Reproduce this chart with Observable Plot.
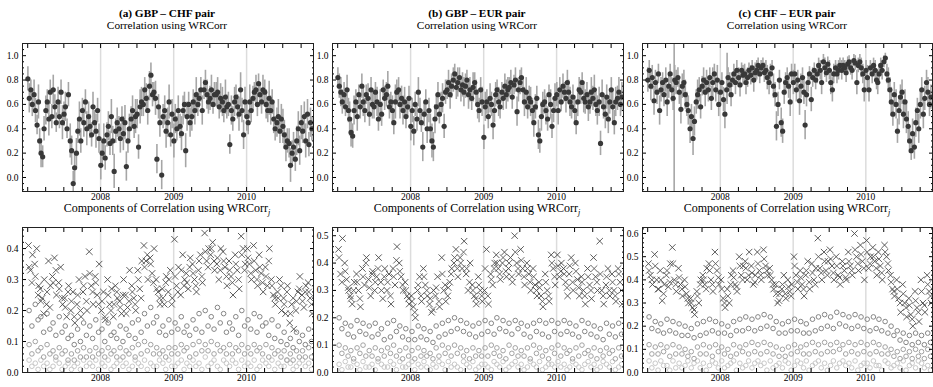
<!DOCTYPE html>
<html><head><meta charset="utf-8">
<script src="https://cdn.jsdelivr.net/npm/d3@7"></script>
<script src="https://cdn.jsdelivr.net/npm/@observablehq/plot@0.6"></script>
<style>
body{margin:0;background:#fff}
#c{position:relative;width:933px;height:387px;overflow:hidden;font-family:"Liberation Serif",serif;color:#000}
.p{position:absolute}
.t{position:absolute;width:300px;text-align:center;font-size:11.3px;line-height:12px;white-space:nowrap}
.b{font-weight:bold}
.m{font-size:12px;line-height:11px}
</style></head><body><div id="c"></div>
<script>
// ---- titles ----
const panelTitles = ["(a) GBP \u2013 CHF pair", "(b) GBP \u2013 EUR pair", "(c) CHF \u2013 EUR pair"];
const subTitle = "Correlation using WRCorr";
const lowerTitle = "Components of Correlation using WRCorr";
const yearLabels = [2008, 2009, 2010];

// ---- top row: correlation estimates (4 per month, Jan 2007 .. Nov 2010) ----
const corrA = [
 .81,.65,.72,.60, .68,.55,.43,.62, .30,.20,.17,.40, .55,.62,.48,.70, .50,.72,.58,.45, .62,.50,.70,.45, .52,.58,.40,.68, .30,.22,-.05,.08, .20,.38,.48,.30, .55,.45,.62,.40, .50,.42,.35,.58, .45,.38,.55,.32,
 .10,.20,.30,.16, .35,.42,.28,.50, .30,.05,.38,.45, .40,.32,.48,.36, .45,.09,.30,.40, .48,.55,.42,.50, .52,.25,.58,.62, .60,.72,.65,.55, .75,.84,.68,.70, .65,.15,.58,.45, .02,.50,.55,.38, .45,.62,.35,.52,
 .30,.48,.40,.55, .42,.36,.55,.60, .22,.50,.60,.45, .50,.62,.55,.68, .60,.65,.72,.55, .72,.78,.68,.62, .65,.72,.60,.68, .68,.70,.58,.65, .62,.55,.66,.58, .60,.27,.55,.48, .62,.66,.58,.52, .72,.55,.35,.62,
 .50,.45,.62,.55, .65,.70,.72,.60, .77,.68,.62,.72, .70,.60,.55,.65, .55,.62,.48,.40, .45,.50,.38,.48, .42,.35,.25,.30, .28,.10,.20,.25, .15,.30,.40,.22, .45,.38,.50,.30, .52,.27,.45,.40];
const errA = [
 .10,.12,.08,.10, .12,.10,.08,.14, .10,.12,.09,.10, .12,.10,.14,.10, .10,.12,.10,.08, .12,.10,.10,.14, .10,.12,.08,.10, .14,.12,.10,.12, .12,.10,.14,.10, .10,.12,.10,.14, .12,.10,.10,.12, .10,.14,.10,.12,
 .12,.10,.14,.10, .10,.12,.10,.14, .12,.14,.10,.12, .10,.12,.10,.14, .14,.12,.10,.12, .10,.12,.10,.14, .12,.10,.14,.12, .10,.10,.12,.12, .12,.10,.10,.08, .14,.12,.10,.12, .12,.10,.12,.14, .12,.14,.10,.12,
 .14,.12,.10,.12, .10,.14,.12,.10, .14,.12,.10,.12, .12,.10,.12,.14, .10,.08,.10,.12, .08,.10,.12,.10, .10,.12,.08,.10, .10,.12,.10,.12, .12,.10,.14,.10, .10,.08,.12,.10, .12,.10,.10,.14, .14,.10,.12,.12,
 .12,.10,.14,.10, .10,.08,.12,.10, .08,.10,.10,.12, .10,.12,.10,.14, .12,.10,.12,.10, .12,.14,.10,.12, .14,.12,.12,.10, .12,.14,.10,.12, .10,.12,.14,.12, .14,.10,.12,.14, .12,.10,.12,.10];
const corrB = [
 .82,.75,.70,.62, .68,.58,.72,.55, .48,.37,.34,.55, .62,.50,.68,.58, .75,.62,.55,.68, .65,.52,.72,.60, .58,.70,.62,.48, .60,.52,.72,.65, .68,.75,.58,.62, .55,.45,.62,.70, .72,.60,.65,.55, .62,.50,.58,.65,
 .42,.55,.38,.60, .48,.70,.55,.45, .25,.52,.62,.40, .55,.40,.30,.25, .48,.58,.68,.52, .60,.65,.42,.70, .72,.78,.68,.75, .80,.85,.74,.78, .82,.72,.76,.70, .75,.80,.68,.72, .65,.74,.78,.70, .60,.55,.72,.62,
 .33,.58,.62,.50, .65,.60,.43,.55, .68,.72,.62,.58, .70,.65,.75,.68, .72,.74,.78,.66, .76,.80,.54,.72, .78,.82,.72,.62, .70,.58,.65,.62, .55,.45,.58,.65, .35,.30,.50,.60, .62,.55,.48,.68, .60,.42,.55,.65,
 .68,.55,.72,.62, .75,.70,.65,.78, .70,.62,.58,.66, .55,.45,.62,.72, .70,.78,.65,.62, .68,.58,.62,.70, .65,.72,.60,.55, .62,.28,.68,.58, .52,.66,.48,.62, .72,.58,.45,.62, .65,.70,.60,.66];
const errB = [
 .08,.10,.12,.10, .10,.08,.12,.10, .14,.12,.10,.12, .10,.12,.08,.10, .10,.12,.10,.08, .12,.10,.10,.12, .10,.08,.12,.10, .12,.10,.08,.10, .10,.12,.10,.08, .12,.10,.14,.10, .10,.12,.10,.12, .12,.10,.08,.10,
 .12,.10,.12,.10, .10,.12,.10,.08, .12,.10,.10,.12, .10,.12,.14,.12, .12,.10,.10,.08, .10,.12,.10,.10, .08,.10,.12,.10, .10,.08,.10,.12, .08,.10,.10,.12, .10,.08,.12,.10, .10,.12,.08,.10, .12,.10,.10,.12,
 .10,.12,.10,.10, .12,.10,.12,.10, .10,.08,.12,.10, .08,.10,.10,.12, .10,.08,.10,.10, .08,.10,.12,.10, .10,.08,.10,.12, .12,.10,.10,.12, .10,.12,.10,.10, .12,.10,.12,.10, .10,.12,.10,.08, .12,.10,.10,.12,
 .10,.12,.10,.08, .10,.08,.12,.10, .10,.12,.10,.10, .12,.10,.12,.10, .10,.08,.12,.10, .10,.12,.10,.12, .10,.12,.10,.12, .12,.10,.12,.10, .12,.10,.12,.10, .10,.12,.10,.12, .10,.12,.10,.12];
const corrC = [
 .80,.88,.75,.82, .63,.78,.70,.85, .55,.72,.78,.68, .80,.62,.75,.85, .72,.65,.80,.78, .82,.70,.56,.75, .78,.68,.60,.55, .40,.50,.32,.46, .62,.68,.72,.58, .75,.80,.70,.78, .72,.82,.65,.78, .85,.72,.80,.60,
 .70,.78,.64,.52, .72,.82,.76,.68, .80,.85,.78,.88, .82,.76,.88,.84, .85,.78,.82,.88, .84,.90,.80,.86, .88,.92,.85,.90, .92,.86,.88,.82, .78,.85,.90,.75, .68,.42,.60,.80, .45,.38,.70,.78, .82,.75,.62,.85,
 .78,.85,.72,.80, .63,.75,.82,.70, .43,.68,.78,.85, .64,.82,.88,.80, .85,.92,.88,.78, .95,.90,.86,.93, .88,.78,.72,.85, .90,.85,.88,.92, .88,.92,.90,.86, .93,.95,.90,.88, .96,.94,.78,.92, .95,.90,.85,.72,
 .88,.82,.72,.90, .85,.92,.88,.80, .78,.85,.92,.88, .95,.98,.85,.80, .72,.62,.52,.68, .60,.38,.55,.66, .70,.52,.62,.48, .42,.30,.22,.36, .25,.45,.55,.40, .60,.72,.52,.65, .78,.70,.60,.66];
const errC = [
 .10,.08,.12,.10, .12,.10,.10,.08, .12,.10,.08,.10, .10,.12,.10,.08, .10,.10,.12,.10, .08,.10,.12,.10, .10,.12,.10,.12, .12,.10,.14,.12, .10,.12,.10,.10, .08,.10,.12,.10, .10,.08,.10,.12, .08,.10,.12,.10,
 .10,.08,.10,.12, .10,.08,.10,.10, .06,.08,.10,.08, .08,.10,.06,.08, .08,.10,.08,.06, .08,.06,.10,.08, .08,.06,.08,.06, .06,.08,.08,.10, .10,.08,.06,.10, .10,.12,.10,.08, .12,.10,.10,.08, .08,.10,.12,.08,
 .10,.08,.10,.08, .12,.10,.08,.10, .12,.10,.08,.06, .10,.08,.06,.08, .08,.06,.08,.10, .06,.08,.08,.06, .08,.10,.10,.08, .06,.08,.08,.06, .08,.06,.06,.08, .06,.05,.06,.08, .05,.06,.10,.06, .06,.08,.08,.10,
 .08,.10,.10,.06, .08,.06,.08,.08, .10,.08,.06,.08, .05,.04,.08,.10, .10,.12,.10,.10, .12,.10,.12,.10, .10,.12,.10,.12, .12,.10,.08,.12, .10,.12,.10,.12, .12,.10,.12,.10, .10,.12,.10,.10];
// isolated long error bars in panel (c)
const spikeDatesC = ["2007-05-14", "2008-02-04"];
const spikeLoC = [-0.3, 0.60];
const spikeHiC = [1.3, 1.02];

// ---- bottom row: components (x markers 3/month, others 2/month) ----
const xsA = [
 .41,.33,.38, .35,.40,.28, .27,.24,.30, .22,.36,.28, .31,.37,.25, .29,.34,.22, .24,.18,.28, .20,.26,.16, .22,.30,.18, .26,.31,.20, .39,.28,.22, .31,.25,.35,
 .20,.26,.17, .30,.22,.27, .18,.28,.24, .23,.19,.30, .25,.21,.33, .28,.24,.20, .33,.27,.36, .41,.36,.30, .37,.32,.40, .30,.26,.22, .27,.22,.31, .26,.33,.24,
 .43,.28,.34, .25,.38,.30, .32,.27,.37, .35,.30,.26, .33,.38,.29, .45,.36,.40, .38,.42,.33, .35,.30,.40, .39,.34,.28, .36,.31,.25, .38,.33,.27, .44,.40,.35,
 .40,.35,.30, .41,.33,.28, .38,.32,.26, .34,.28,.40, .30,.25,.22, .26,.30,.20, .24,.19,.28, .16,.22,.14, .20,.26,.31, .25,.21,.28, .29,.24,.19];
const xs2A = [
 .34,.29, .31,.25, .23,.19, .26,.21, .29,.33, .27,.24, .21,.26, .23,.18, .25,.20, .28,.23, .32,.26, .29,.22,
 .23,.18, .25,.20, .22,.26, .21,.25, .19,.23, .26,.22, .30,.24, .34,.38, .35,.29, .27,.24, .24,.29, .30,.22,
 .31,.26, .33,.28, .29,.34, .32,.28, .36,.31, .39,.34, .40,.36, .37,.33, .36,.31, .33,.29, .35,.30, .38,.33,
 .37,.32, .36,.30, .34,.29, .31,.36, .28,.24, .24,.28, .22,.26, .19,.24, .23,.27, .23,.26, .26,.22];
const c1A = [
 .20,.15, .22,.17, .18,.13, .19,.14, .16,.12, .18,.13, .15,.11, .12,.09, .14,.10, .16,.12, .15,.11, .17,.13,
 .14,.10, .16,.12, .13,.11, .15,.10, .14,.12, .16,.11, .17,.13, .19,.15, .21,.16, .18,.13, .15,.12, .17,.13,
 .16,.14, .18,.13, .15,.12, .17,.14, .19,.13, .20,.15, .18,.14, .21,.16, .19,.13, .16,.14, .18,.12, .20,.15,
 .17,.14, .19,.13, .18,.15, .16,.12, .17,.11, .15,.10, .13,.09, .11,.08, .13,.10, .12,.09, .14,.10];
const c2A = [
 .09,.06, .10,.07, .08,.05, .09,.06, .07,.05, .08,.06, .07,.04, .06,.04, .07,.05, .08,.05, .07,.05, .08,.06,
 .07,.05, .08,.06, .07,.05, .08,.05, .07,.06, .08,.05, .09,.06, .10,.07, .09,.06, .08,.06, .07,.05, .08,.06,
 .08,.06, .09,.07, .08,.05, .09,.06, .10,.07, .09,.07, .10,.06, .09,.07, .08,.06, .09,.06, .08,.07, .09,.06,
 .08,.06, .09,.07, .08,.06, .09,.05, .08,.06, .07,.05, .07,.04, .06,.04, .07,.05, .07,.05, .08,.05];
const c3A = [
 .04,.02, .03,.01, .04,.02, .03,.01, .02,.04, .03,.01, .02,.03, .01,.02, .03,.01, .04,.02, .03,.02, .04,.01,
 .03,.02, .04,.01, .02,.03, .04,.02, .03,.01, .02,.04, .03,.02, .04,.01, .03,.02, .02,.04, .03,.01, .04,.02,
 .02,.03, .04,.01, .03,.02, .04,.02, .03,.01, .05,.02, .03,.04, .02,.01, .04,.03, .02,.04, .03,.01, .04,.02,
 .03,.02, .04,.01, .02,.04, .03,.02, .04,.01, .03,.02, .02,.04, .03,.01, .02,.03, .04,.02, .03,.01];

const xsB = [
 .45,.36,.49, .40,.34,.30, .28,.25,.33, .36,.30,.24, .38,.32,.42, .34,.28,.37, .30,.35,.42, .33,.27,.38, .30,.36,.25, .38,.32,.46, .40,.35,.30, .33,.28,.25,
 .28,.24,.20, .30,.35,.26, .38,.32,.28, .25,.22,.30, .28,.35,.24, .42,.30,.26, .28,.33,.38, .40,.45,.35, .42,.38,.48, .36,.30,.40, .32,.28,.25, .35,.30,.26,
 .30,.45,.25, .36,.32,.40, .43,.38,.34, .40,.44,.35, .38,.42,.33, .50,.40,.36, .45,.38,.32, .40,.36,.30, .38,.32,.28, .33,.28,.24, .36,.30,.26, .43,.38,.32,
 .43,.35,.40, .38,.33,.28, .36,.42,.30, .40,.34,.28, .35,.30,.25, .38,.32,.27, .42,.35,.30, .48,.30,.25, .32,.38,.28, .36,.30,.26, .38,.33,.25];
const xs2B = [
 .42,.33, .37,.31, .27,.30, .33,.27, .35,.40, .31,.36, .33,.38, .30,.35, .33,.28, .35,.41, .37,.32, .30,.27,
 .26,.22, .32,.28, .35,.30, .27,.23, .31,.26, .36,.32, .31,.36, .42,.38, .40,.44, .38,.33, .30,.27, .32,.28,
 .38,.28, .34,.38, .40,.36, .42,.37, .40,.35, .44,.38, .41,.35, .38,.33, .35,.30, .31,.26, .33,.28, .40,.35,
 .39,.37, .36,.31, .39,.33, .37,.31, .33,.28, .35,.30, .38,.33, .36,.28, .35,.30, .33,.28, .36,.30];
const c1B = [
 .20,.16, .18,.14, .17,.13, .19,.15, .18,.14, .17,.13, .18,.14, .16,.12, .18,.13, .19,.15, .17,.13, .16,.12,
 .15,.12, .17,.13, .16,.12, .15,.11, .17,.13, .18,.14, .19,.15, .20,.16, .19,.15, .18,.14, .17,.13, .18,.14,
 .19,.15, .18,.14, .20,.16, .19,.15, .18,.14, .19,.16, .18,.14, .17,.13, .18,.15, .19,.14, .18,.13, .19,.15,
 .18,.14, .19,.15, .18,.14, .17,.13, .19,.15, .18,.14, .17,.13, .16,.12, .18,.14, .17,.13, .18,.14];
const c2B = [
 .10,.07, .09,.06, .08,.05, .09,.07, .10,.06, .08,.06, .09,.05, .08,.06, .09,.07, .10,.06, .08,.05, .09,.06,
 .08,.05, .09,.06, .08,.06, .07,.05, .09,.06, .10,.07, .09,.06, .10,.07, .09,.06, .08,.05, .09,.06, .08,.06,
 .09,.06, .10,.07, .09,.06, .08,.05, .10,.07, .09,.06, .08,.06, .09,.05, .10,.07, .09,.06, .08,.05, .09,.07,
 .10,.06, .09,.07, .08,.05, .09,.06, .10,.07, .08,.06, .09,.05, .08,.06, .09,.07, .08,.05, .09,.06];
const c3B = [
 .03,.01, .04,.02, .02,.04, .03,.01, .04,.02, .02,.03, .01,.04, .03,.02, .02,.04, .03,.01, .04,.02, .02,.03,
 .04,.01, .03,.02, .04,.02, .01,.03, .02,.04, .03,.01, .04,.02, .03,.02, .01,.04, .03,.02, .04,.01, .02,.03,
 .03,.02, .01,.04, .03,.02, .04,.01, .02,.03, .04,.02, .03,.01, .02,.04, .03,.02, .04,.01, .02,.03, .03,.02,
 .04,.02, .03,.01, .02,.04, .03,.02, .01,.03, .04,.02, .03,.01, .02,.04, .03,.02, .04,.01, .02,.03];

const xsC = [
 .47,.42,.38, .51,.40,.36, .44,.31,.38, .42,.37,.47, .54,.40,.35, .45,.38,.33, .40,.34,.30, .32,.28,.25, .35,.30,.40, .42,.38,.45, .47,.40,.35, .52,.44,.38,
 .40,.32,.28, .36,.30,.42, .44,.38,.35, .50,.42,.46, .48,.40,.52, .46,.38,.42, .52,.44,.40, .53,.46,.42, .45,.40,.36, .38,.30,.34, .36,.42,.32, .40,.35,.38,
 .50,.42,.36, .44,.38,.33, .42,.48,.36, .47,.40,.45, .58,.45,.40, .52,.44,.48, .53,.46,.40, .50,.42,.38, .48,.44,.40, .52,.46,.42, .60,.50,.44, .55,.48,.40,
 .57,.45,.50, .54,.48,.42, .52,.46,.40, .55,.50,.44, .42,.36,.33, .40,.32,.26, .38,.30,.24, .32,.25,.20, .35,.28,.22, .40,.30,.26, .42,.35,.30];
const xs2C = [
 .44,.40, .46,.36, .40,.34, .44,.39, .47,.38, .41,.36, .37,.32, .30,.27, .33,.38, .40,.36, .44,.38, .47,.41,
 .36,.30, .33,.38, .41,.37, .46,.40, .45,.42, .43,.39, .47,.42, .49,.44, .42,.38, .34,.31, .38,.34, .37,.33,
 .46,.39, .41,.36, .44,.39, .43,.38, .50,.43, .48,.42, .49,.43, .46,.41, .46,.41, .48,.44, .53,.47, .51,.45,
 .52,.47, .50,.45, .49,.43, .52,.47, .39,.35, .36,.30, .34,.28, .29,.23, .31,.26, .35,.29, .38,.33];
const c1C = [
 .24,.19, .22,.18, .21,.17, .23,.18, .22,.17, .21,.16, .20,.16, .19,.15, .21,.16, .22,.17, .23,.18, .22,.17,
 .21,.17, .20,.16, .22,.18, .23,.18, .24,.19, .23,.18, .24,.19, .25,.20, .24,.19, .22,.17, .21,.17, .22,.18,
 .23,.18, .22,.17, .21,.17, .23,.18, .24,.19, .25,.20, .24,.19, .26,.21, .25,.20, .24,.19, .25,.20, .24,.19,
 .23,.18, .24,.19, .23,.18, .22,.17, .20,.16, .18,.14, .17,.13, .16,.12, .17,.13, .16,.12, .17,.13];
const c2C = [
 .12,.08, .11,.08, .12,.09, .11,.07, .12,.08, .11,.08, .10,.07, .09,.06, .11,.08, .12,.08, .11,.07, .12,.09,
 .11,.08, .10,.07, .12,.08, .11,.09, .12,.08, .13,.09, .12,.08, .13,.09, .12,.08, .11,.07, .10,.07, .11,.08,
 .12,.09, .11,.08, .12,.08, .13,.09, .12,.08, .13,.09, .12,.09, .13,.10, .12,.08, .13,.09, .12,.08, .13,.09,
 .12,.08, .13,.09, .12,.08, .11,.08, .10,.07, .09,.06, .10,.07, .09,.06, .10,.07, .09,.06, .10,.07];
const c3C = [
 .05,.02, .04,.01, .05,.03, .03,.01, .05,.02, .04,.02, .03,.05, .02,.04, .05,.02, .04,.01, .03,.05, .04,.02,
 .05,.02, .03,.04, .05,.01, .04,.02, .03,.05, .02,.04, .05,.03, .04,.01, .05,.02, .03,.04, .02,.05, .04,.01,
 .03,.05, .04,.02, .05,.01, .03,.04, .05,.02, .04,.01, .03,.05, .02,.04, .05,.03, .04,.02, .05,.01, .03,.04,
 .04,.02, .05,.03, .03,.01, .05,.04, .02,.03, .04,.02, .05,.01, .03,.04, .02,.05, .04,.02, .03,.01];

// ---- sampling dates ----
const months = d3.utcMonth.range(new Date(Date.UTC(2007,0,1)), new Date(Date.UTC(2010,11,1)));
const atDays = days => months.flatMap(m => days.map(d => new Date(Date.UTC(m.getUTCFullYear(), m.getUTCMonth(), d))));
const topDates = atDays([2, 9, 17, 24]);
const xDates = atDays([5, 15, 25]);
const cDates = atDays([8, 22]);

const xDomain = [new Date(Date.UTC(2006,11,6)), new Date(Date.UTC(2010,11,2))];
const quarterTicks = d3.utcMonth.every(3).range(new Date(Date.UTC(2007,0,1)), xDomain[1]);
const yearTicks = yearLabels.map(y => new Date(Date.UTC(y,0,1)));

const root = document.getElementById("c");
const colLeft = [0, 310, 620];
const colWidth = [314, 314, 313];
const fmt1 = d3.format(".1f");

function frameAxes(yMajor, yMinor) {
  const blank = () => "";
  return [
    Plot.axisX(quarterTicks, {anchor: "bottom", tickSize: -4, tickFormat: blank, label: null}),
    Plot.axisX(quarterTicks, {anchor: "top", tickSize: -4, tickFormat: blank, label: null}),
    Plot.axisX(yearTicks, {anchor: "bottom", tickSize: 0, tickPadding: 2, tickFormat: d3.utcFormat("%Y"), label: null, fontSize: 9.5}),
    Plot.axisY(yMajor, {anchor: "left", tickSize: -4, tickFormat: blank, label: null}),
    Plot.axisY(yMinor, {anchor: "left", tickSize: -2, tickFormat: blank, label: null}),
    Plot.axisY(yMajor, {anchor: "right", tickSize: -4, tickFormat: blank, label: null}),
    Plot.axisY(yMinor, {anchor: "right", tickSize: -2, tickFormat: blank, label: null}),
    Plot.axisY(yMajor, {anchor: "left", tickSize: 0, tickPadding: 4, tickFormat: fmt1, label: null, fontSize: 9.5}),
    Plot.frame({stroke: "#222", strokeWidth: 1})
  ];
}

function place(col, top, width, height, marginBottom, yDomain, marks) {
  const svg = Plot.plot({
    width, height,
    marginLeft: 22, marginRight: 1, marginTop: 13, marginBottom,
    x: {type: "utc", domain: xDomain, label: null},
    y: {domain: yDomain, label: null},
    style: {fontFamily: "'Liberation Serif', serif", fontSize: "9.5px", background: "transparent", color: "#000"},
    marks
  });
  const d = document.createElement("div");
  d.className = "p";
  d.style.left = colLeft[col] + "px";
  d.style.top = top + "px";
  d.appendChild(svg);
  root.appendChild(d);
}

const topSets = [[corrA, errA], [corrB, errB], [corrC, errC]];
const topMajor = [0, 0.2, 0.4, 0.6, 0.8, 1.0];
const topMinor = d3.range(-0.1, 1.1001, 0.05).map(v => +v.toFixed(2)).filter(v => !topMajor.includes(v));

topSets.forEach(([vals, errs], i) => {
  const rows = topDates.map((date, k) => ({date, y: vals[k], lo: vals[k] - errs[k], hi: vals[k] + errs[k]}));
  const spikes = i === 2 ? spikeDatesC.map((s, k) => ({date: new Date(s), lo: spikeLoC[k], hi: spikeHiC[k]})) : [];
  place(i, 30, colWidth[i], 177, 16, [-0.115, 1.1], [
    Plot.ruleX(yearTicks, {stroke: "#dcdcdc", strokeWidth: 1.5}),
    Plot.ruleX(spikes, {x: "date", y1: "lo", y2: "hi", stroke: "#999", strokeWidth: 1.4, clip: true}),
    Plot.ruleX(rows, {x: "date", y1: "lo", y2: "hi", stroke: "#a6a6a6", strokeWidth: 1.6, clip: true}),
    Plot.dot(rows, {x: "date", y: "y", r: 2.6, fill: "#383838", clip: true}),
    ...frameAxes(topMajor, topMinor)
  ]);
});

const botSets = [
  {xs: xsA, xs2: xs2A, c1: c1A, c2: c2A, c3: c3A, top: 0.468, maxLab: 0.4},
  {xs: xsB, xs2: xs2B, c1: c1B, c2: c2B, c3: c3B, top: 0.53, maxLab: 0.5},
  {xs: xsC, xs2: xs2C, c1: c1C, c2: c2C, c3: c3C, top: 0.626, maxLab: 0.6}
];
botSets.forEach((s, i) => {
  const major = d3.range(0, s.maxLab + 0.001, 0.1).map(v => +v.toFixed(1));
  const minor = d3.range(0, s.top, 0.02).map(v => +v.toFixed(2)).filter(v => !major.includes(v));
  const pts = (dates, arr) => dates.map((date, k) => ({date, v: arr[k]}));
  place(i, 214, colWidth[i], 173, 15, [0, s.top], [
    Plot.ruleX(yearTicks, {stroke: "#dcdcdc", strokeWidth: 1.5}),
    Plot.dot(pts(cDates, s.c3), {x: "date", y: "v", r: 2.3, stroke: "#c8c8c8", strokeWidth: 1, clip: true}),
    Plot.dot(pts(cDates, s.c2), {x: "date", y: "v", r: 2.3, stroke: "#a2a2a2", strokeWidth: 1, clip: true}),
    Plot.dot(pts(cDates, s.c1), {x: "date", y: "v", r: 2.3, stroke: "#858585", strokeWidth: 1, clip: true}),
    Plot.dot(pts(cDates, s.xs2), {x: "date", y: "v", symbol: "times", r: 3, stroke: "#5a5a5a", strokeWidth: 0.9, clip: true}),
    Plot.dot(pts(xDates, s.xs), {x: "date", y: "v", symbol: "times", r: 3, stroke: "#4a4a4a", strokeWidth: 0.9, clip: true}),
    ...frameAxes(major, minor)
  ]);
});

// ---- titles ----
const centers = [167, 477, 787];
function addText(html, cx, top, cls) {
  const d = document.createElement("div");
  d.className = "t" + (cls ? " " + cls : "");
  d.style.left = (cx - 150) + "px";
  d.style.top = top + "px";
  d.innerHTML = html;
  root.appendChild(d);
}
centers.forEach((cx, i) => {
  addText(panelTitles[i], cx, 7, "b");
  addText(subTitle, cx, 19);
  addText(lowerTitle + "<sub style='font-style:italic;font-size:8px;line-height:0'>j</sub>", cx, 203, "m");
});
</script></body></html>
